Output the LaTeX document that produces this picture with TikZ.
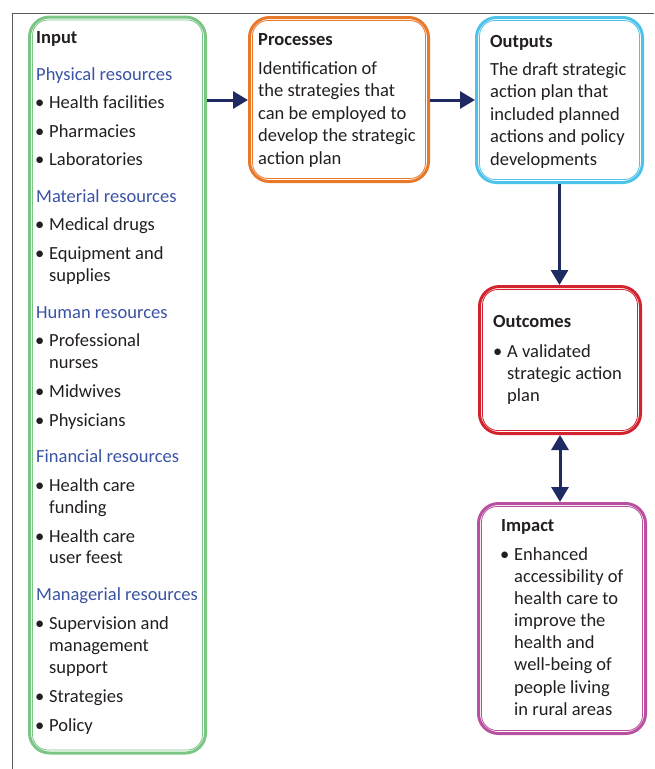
\documentclass[tikz,border=0pt]{standalone}
\usepackage{fontspec}
\setmainfont{Carlito}
\usetikzlibrary{arrows.meta}
\definecolor{cgreen}{HTML}{7CC685}
\definecolor{corange}{HTML}{E8792B}
\definecolor{ccyan}{HTML}{4DC3EC}
\definecolor{cred}{HTML}{D2232E}
\definecolor{cmag}{HTML}{B8509F}
\definecolor{chead}{HTML}{3A53A4}
\definecolor{ctext}{HTML}{231F20}
\definecolor{cnavy}{HTML}{1F2A62}
\definecolor{cframe}{HTML}{5A5A5A}
\newcommand\bul{\makebox[14pt][l]{•}}
\begin{document}
\begin{tikzpicture}[x=1pt,y=-1pt,
  font=\fontsize{18.5pt}{22.5pt}\selectfont,
  box/.style={draw=#1, line width=3pt, rounded corners=20pt, fill=white, inner sep=0pt},
  innerline/.style={draw=#1, line width=0.8pt, rounded corners=15.5pt},
  txt/.style={anchor=base west, inner sep=0pt, text=ctext},
  ttl/.style={txt, font=\fontsize{18.5pt}{22.5pt}\selectfont\bfseries},
  hd/.style={txt, text=chead},
  flow/.style={draw=cnavy, line width=3pt, -{Triangle[length=15pt,width=17pt]}},
  flow2/.style={draw=cnavy, line width=3pt, {Triangle[length=15pt,width=17pt]}-{Triangle[length=15pt,width=17pt]}},
]
\useasboundingbox (0,0) rectangle (654,769);
% outer frame
\draw[cframe, line width=1pt] (12,769) -- (12,13) -- (654,13);

% boxes
\node[box=cgreen, minimum width=176pt, minimum height=736pt] (input) at (117.5,385) {};
\node[box=corange, minimum width=179pt, minimum height=164pt] (proc) at (339,99.5) {};
\node[box=ccyan, minimum width=166pt, minimum height=165pt] (outp) at (559.5,100) {};
\node[box=cred, minimum width=161pt, minimum height=147pt] (outc) at (560,360) {};
\node[box=cmag, minimum width=167pt, minimum height=230pt] (imp) at (562,618.5) {};
\foreach \n/\c in {input/cgreen, proc/corange, outp/ccyan, outc/cred, imp/cmag}
  \draw[innerline=\c] ([shift={(4.5pt,-4.5pt)}]\n.north west) rectangle ([shift={(-4.5pt,4.5pt)}]\n.south east);

% connectors
\coordinate (lvl) at (0,100);
\draw[flow] (input.east |- lvl) -- (proc.west |- lvl);
\draw[flow] (proc.east |- lvl) -- (outp.west |- lvl);
\draw[flow] (outp.south) -- (outp.south |- outc.north);
\draw[flow2] (outc.south) -- (outc.south |- imp.north);

% Input text
\node[ttl] (inT) at (36,43) {Input};
\node[hd] (h1) at (36,80) {Physical resources};
\node[txt] (i1) at (35,108) {\bul Health facilities};
\node[txt] (i2) at (35,137) {\bul Pharmacies};
\node[txt] (i3) at (35,165) {\bul Laboratories};
\node[hd] (h2) at (36,202) {Material resources};
\node[txt] (i4) at (35,230) {\bul Medical drugs};
\node[txt] (i5) at (35,259) {\bul Equipment and};
\node[txt] (i5b) at (49,281) {supplies};
\node[hd] (h3) at (36,318) {Human resources};
\node[txt] (i6) at (35,346) {\bul Professional};
\node[txt] (i6b) at (49,368) {nurses};
\node[txt] (i7) at (35,397) {\bul Midwives};
\node[txt] (i8) at (35,426) {\bul Physicians};
\node[hd] (h4) at (36,462) {Financial resources};
\node[txt] (i9) at (35,491) {\bul Health care};
\node[txt] (i9b) at (49,513) {funding};
\node[txt] (i10) at (35,542) {\bul Health care};
\node[txt] (i10b) at (49,563) {user feest};
\node[hd] (h5) at (36,600) {Managerial resources};
\node[txt] (i11) at (35,629) {\bul Supervision and};
\node[txt] (i11b) at (49,651) {management};
\node[txt] (i11c) at (49,673) {support};
\node[txt] (i12) at (35,702) {\bul Strategies};
\node[txt] (i13) at (35,731) {\bul Policy};

% Processes text
\node[ttl] (pT) at (258,45) {Processes};
\foreach \t [count=\i] in {Identification of, the strategies that, can be employed to, develop the strategic, action plan}
  \node[txt] (p\i) at (258,{74+22.5*(\i-1)}) {\t};

% Outputs text
\node[ttl] (oT) at (490,47) {Outputs};
\foreach \t [count=\i] in {The draft strategic, action plan that, included planned, actions and policy, developments}
  \node[txt] (o\i) at (490,{75+22.5*(\i-1)}) {\t};

% Outcomes text
\node[ttl] (ocT) at (493,327) {Outcomes};
\node[txt] (oc1) at (493,357) {\bul A validated};
\node[txt] (oc2) at (507,379) {strategic action};
\node[txt] (oc3) at (507,401) {plan};

% Impact text
\node[ttl] (imT) at (501,531) {Impact};
\node[txt] (im1) at (500,560) {\bul Enhanced};
\foreach \t [count=\i] in {accessibility of, health care to, improve the, health and, well-being of, people living, in rural areas}
  \node[txt] (im\i b) at (514,{582+22.2*(\i-1)}) {\t};
\end{tikzpicture}
\end{document}
